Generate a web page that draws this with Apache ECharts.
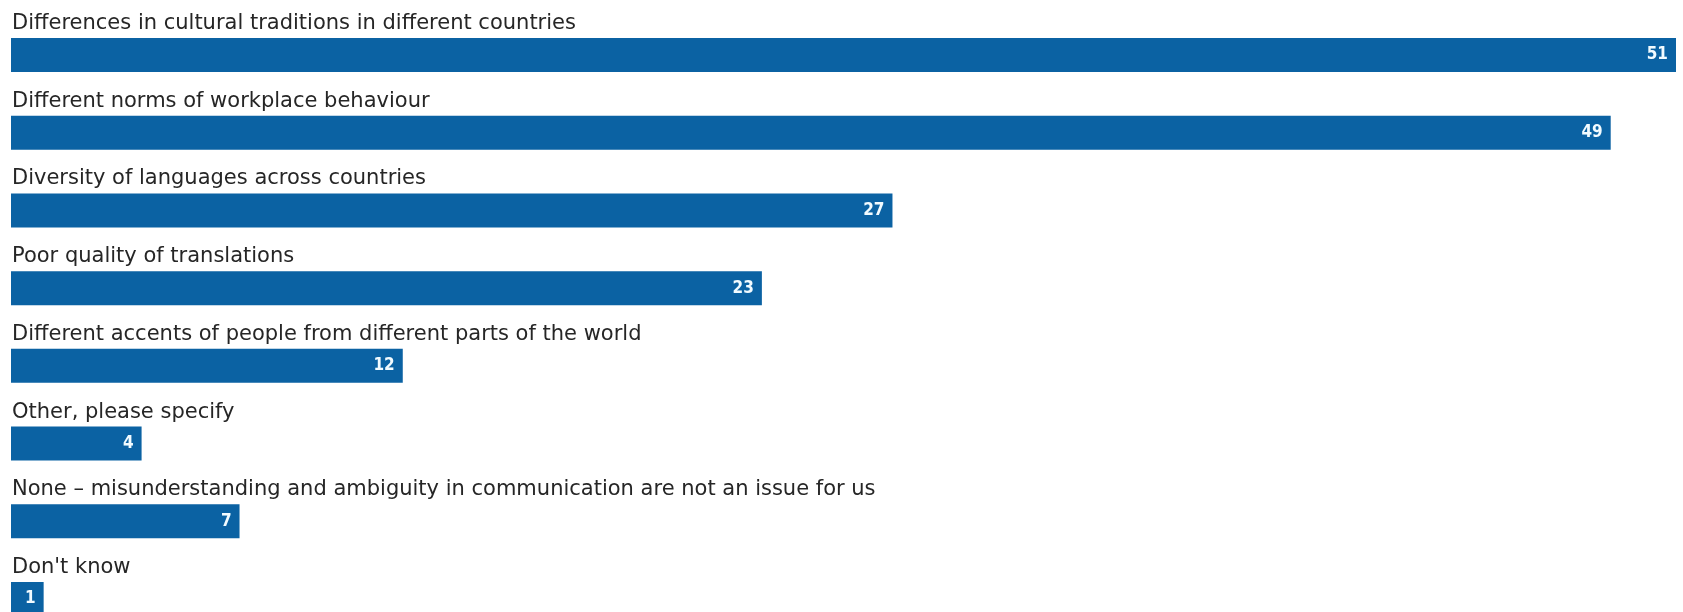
<!DOCTYPE html>
<html>
<head>
<meta charset="utf-8">
<script src="https://cdn.jsdelivr.net/npm/echarts@6/dist/echarts.min.js"></script>
<style>
html,body{margin:0;padding:0;background:#fff;}
#chart{width:1683px;height:612px;}
</style>
</head>
<body>
<div id="chart"></div>
<script>
const categories = [
  "Differences in cultural traditions in different countries",
  "Different norms of workplace behaviour",
  "Diversity of languages across countries",
  "Poor quality of translations",
  "Different accents of people from different parts of the world",
  "Other, please specify",
  "None – misunderstanding and ambiguity in communication are not an issue for us",
  "Don't know"
];
const values = [51, 49, 27, 23, 12, 4, 7, 1];

const chart = echarts.init(document.getElementById('chart'));
chart.setOption({
  animation: false,
  backgroundColor: '#ffffff',
  grid: { left: 11, top: 55, right: 7, bottom: 13, containLabel: false },
  xAxis: {
    type: 'value', min: 0, max: 51, show: false
  },
  yAxis: {
    type: 'category',
    data: categories,
    inverse: true,
    boundaryGap: false,
    axisLine: { show: false },
    axisTick: { show: false },
    splitLine: { show: false },
    axisLabel: {
      inside: true,
      margin: 1,
      align: 'left',
      verticalAlign: 'bottom',
      padding: [0, 0, 21, 0],
      color: '#262626',
      fontFamily: 'DejaVu Sans',
      fontSize: 21
    },
    z: 5
  },
  series: [{
    type: 'bar',
    data: values,
    barWidth: 34,
    itemStyle: { color: '#0b62a3' },
    label: {
      show: true,
      position: 'insideRight',
      distance: 8,
      color: '#f2fbff',
      fontFamily: 'DejaVu Sans Condensed',
      fontWeight: 'bold',
      fontSize: 17
    }
  }]
});
</script>
</body>
</html>
